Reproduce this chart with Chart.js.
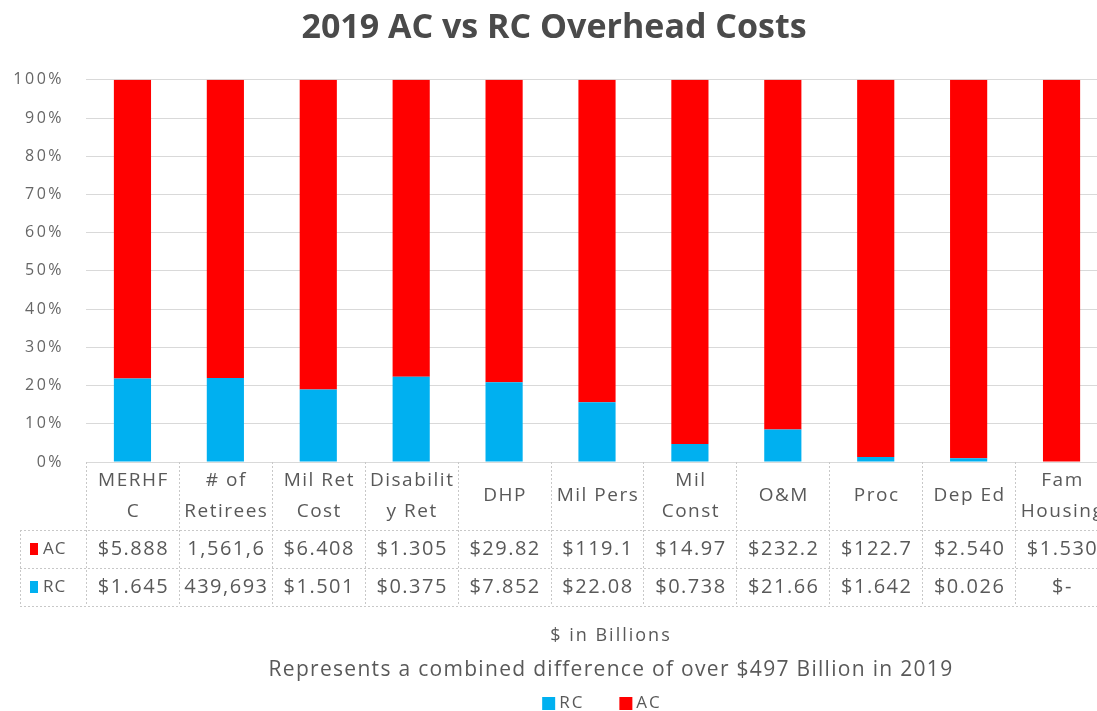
<!DOCTYPE html>
<html>
<head>
<meta charset="utf-8">
<title>2019 AC vs RC Overhead Costs</title>
<script src="https://cdn.jsdelivr.net/npm/chart.js@4.4.1/dist/chart.umd.min.js"></script>
<style>
  html, body { margin: 0; padding: 0; background: #fff; overflow: hidden; }
  /* plot area runs a little past the right edge of the window, as in the original */
  #wrap { width: 1110px; height: 711px; }
</style>
</head>
<body>
<div id="wrap"><canvas id="overheadChart"></canvas></div>
<script>
/* ── Data ── */
const categories = [
  ['MERHF', 'C'], ['# of', 'Retirees'], ['Mil Ret', 'Cost'], ['Disabilit', 'y Ret'],
  ['DHP'], ['Mil Pers'], ['Mil', 'Const'], ['O&M'], ['Proc'], ['Dep Ed'], ['Fam', 'Housing'],
];
const acValues = [5.888, 1561600, 6.408, 1.305, 29.82, 119.1, 14.97, 232.2, 122.7, 2.540, 1.530];
const rcValues = [1.645, 439693, 1.501, 0.375, 7.852, 22.08, 0.738, 21.66, 1.642, 0.026, 0];
const acLabels = ['$5.888', '1,561,6', '$6.408', '$1.305', '$29.82', '$119.1', '$14.97', '$232.2', '$122.7', '$2.540', '$1.530'];
const rcLabels = ['$1.645', '439,693', '$1.501', '$0.375', '$7.852', '$22.08', '$0.738', '$21.66', '$1.642', '$0.026', '$-'];
const yTickStep = 10;

const AC_COLOR = '#FF0000';
const RC_COLOR = '#00B0F0';
const TEXT = '#595959';
const FONT = "'Open Sans', sans-serif";

// 100% stacked: each bar shows the share of AC and RC in its category
const share = (a, b) => a.map((v, i) => (v + b[i]) ? v / (v + b[i]) * 100 : 0);

// the original face is a wide one, so space the letters out a little
const spaced = (ctx, px) => { if ('letterSpacing' in ctx) ctx.letterSpacing = px + 'px'; };

/* ── Data table + footnotes under the plot ── */
const tablePlugin = {
  id: 'dataTable',
  beforeDraw(chart) {
    spaced(chart.ctx, 0); // title
  },
  afterDatasetsDraw(chart) {
    spaced(chart.ctx, 2.5); // y tick labels (ticks.z = 1, drawn after the bars)
  },
  afterDraw(chart) {
    const { ctx, chartArea: area, scales: { x } } = chart;
    const n = categories.length;
    const colW = (area.right - area.left) / n;
    const y0 = area.bottom, y1 = y0 + 68, y2 = y1 + 38, y3 = y2 + 38;
    const tableLeft = 20;

    ctx.save();
    ctx.strokeStyle = '#c8c8c8';
    ctx.lineWidth = 1;
    ctx.setLineDash([2, 2]);
    ctx.beginPath();
    for (let i = 0; i <= n; i++) {
      const lx = Math.round(area.left + i * colW) + 0.5;
      ctx.moveTo(lx, y0); ctx.lineTo(lx, y3);
    }
    [y1, y2, y3].forEach(y => { ctx.moveTo(tableLeft, y + 0.5); ctx.lineTo(area.right, y + 0.5); });
    ctx.moveTo(tableLeft + 0.5, y1); ctx.lineTo(tableLeft + 0.5, y3);
    ctx.stroke();
    ctx.setLineDash([]);

    ctx.fillStyle = TEXT;
    ctx.textAlign = 'center';
    ctx.textBaseline = 'middle';

    // header row: category names
    ctx.font = `19px ${FONT}`;
    spaced(ctx, 1.5);
    categories.forEach((lines, i) => {
      const cx = x.getPixelForValue(i) + 1;
      const mid = (y0 + y1) / 2;
      lines.forEach((t, k) => ctx.fillText(t, cx, mid + (k - (lines.length - 1) / 2) * 31));
    });

    // value rows
    ctx.font = `20px ${FONT}`;
    spaced(ctx, 1.5);
    acLabels.forEach((t, i) => ctx.fillText(t, x.getPixelForValue(i) + 1, (y1 + y2) / 2));
    rcLabels.forEach((t, i) => ctx.fillText(t, x.getPixelForValue(i) + 1, (y2 + y3) / 2));

    // row keys
    ctx.textAlign = 'left';
    ctx.font = `17px ${FONT}`;
    spaced(ctx, 1);
    [['AC', AC_COLOR, (y1 + y2) / 2], ['RC', RC_COLOR, (y2 + y3) / 2]].forEach(([name, col, cy]) => {
      ctx.fillStyle = col;
      ctx.fillRect(30, cy - 6, 8, 12);
      ctx.fillStyle = TEXT;
      ctx.fillText(name, 43, cy);
    });

    // footnotes
    const cx = (area.left + area.right) / 2;
    ctx.textAlign = 'center';
    ctx.font = `18px ${FONT}`;
    spaced(ctx, 2);
    ctx.fillText('$ in Billions', cx + 14, 636);
    ctx.font = `21px ${FONT}`;
    spaced(ctx, 1.3);
    ctx.fillText('Represents a combined difference of over $497 Billion in 2019', cx + 14, 670);

    // legend
    ctx.font = `17px ${FONT}`;
    spaced(ctx, 2);
    const items = chart.data.datasets.map(d => ({ label: d.label, color: d.backgroundColor }));
    const gap = 35, box = 13;
    const widths = items.map(it => box + 4 + ctx.measureText(it.label).width);
    let lx = cx + 5 - (widths.reduce((a, b) => a + b, 0) + gap * (items.length - 1)) / 2;
    ctx.textAlign = 'left';
    items.forEach((it, i) => {
      ctx.fillStyle = it.color;
      ctx.fillRect(lx, 697, box, box);
      ctx.fillStyle = TEXT;
      ctx.fillText(it.label, lx + box + 4, 703);
      lx += widths[i] + gap;
    });
    ctx.restore();
    spaced(ctx, 0);
  },
};

/* ── Chart ── */
new Chart(document.getElementById('overheadChart'), {
  type: 'bar',
  data: {
    labels: categories,
    datasets: [
      { label: 'RC', data: share(rcValues, acValues), backgroundColor: RC_COLOR, barPercentage: 1, categoryPercentage: 0.4 },
      { label: 'AC', data: share(acValues, rcValues), backgroundColor: AC_COLOR, barPercentage: 1, categoryPercentage: 0.4 },
    ],
  },
  options: {
    responsive: true, maintainAspectRatio: false, animation: false,
    layout: { padding: { top: 0, right: 2, bottom: 249, left: 0 } },
    scales: {
      x: { stacked: true, display: false },
      y: {
        stacked: true, min: 0, max: 100,
        ticks: { z: 1, stepSize: yTickStep, padding: 22, color: '#666666', font: { family: FONT, size: 16 }, callback: v => v + '%' },
        grid: { color: '#d9d9d9', drawTicks: false },
        border: { display: false },
        afterFit: s => { s.width = 86; },
      },
    },
    plugins: {
      legend: { display: false },
      tooltip: { enabled: false },
      title: {
        display: true,
        text: '2019 AC vs RC Overhead Costs',
        color: '#4a4a4a',
        font: { family: FONT, size: 34, weight: 'bold' },
        padding: { top: 8, bottom: 31 },
      },
    },
  },
  plugins: [tablePlugin],
});
</script>
</body>
</html>
